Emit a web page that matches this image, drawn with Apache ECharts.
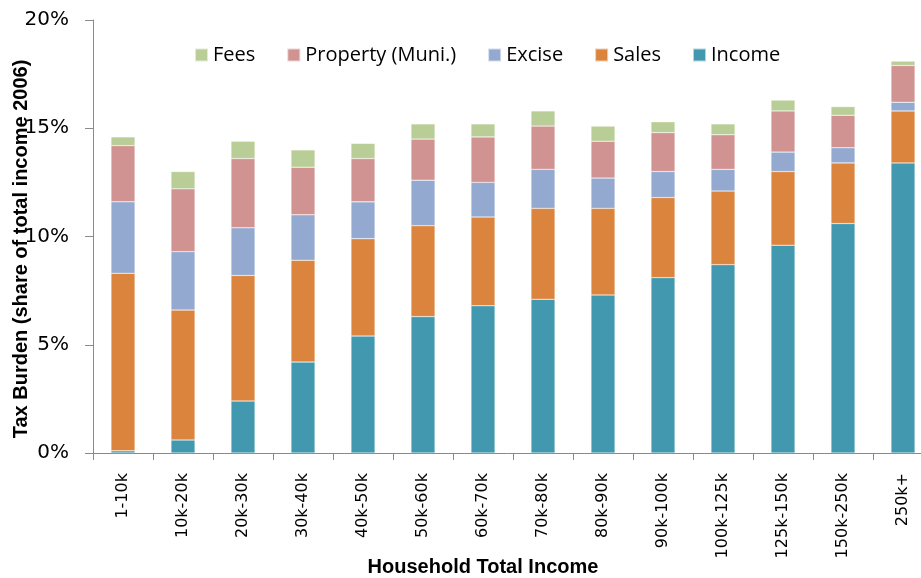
<!DOCTYPE html>
<html lang="en">
<head>
    <meta charset="UTF-8">
    <title>Tax Burden</title>
    <script type="text/javascript" src="https://cdn.jsdelivr.net/npm/echarts@6/dist/echarts.min.js"></script>
    <style>
        html, body { margin: 0; padding: 0; background: #fff; }
    </style>
</head>
<body>
<div id="chartmain" style="width:921px;height:578px"></div>
<script>
    // household income brackets
    var categories = ['1-10k', '10k-20k', '20k-30k', '30k-40k', '40k-50k', '50k-60k', '60k-70k',
        '70k-80k', '80k-90k', '90k-100k', '100k-125k', '125k-150k', '150k-250k', '250k+'];

    // tax burden by type, % of total income
    var income   = [0.1, 0.6, 2.4, 4.2, 5.4, 6.3, 6.8, 7.1, 7.3, 8.1, 8.7, 9.6, 10.6, 13.4];
    var sales    = [8.2, 6.0, 5.8, 4.7, 4.5, 4.2, 4.1, 4.2, 4.0, 3.7, 3.4, 3.4, 2.8, 2.4];
    var excise   = [3.3, 2.7, 2.2, 2.1, 1.7, 2.1, 1.6, 1.8, 1.4, 1.2, 1.0, 0.9, 0.7, 0.4];
    var property = [2.6, 2.9, 3.2, 2.2, 2.0, 1.9, 2.1, 2.0, 1.7, 1.8, 1.6, 1.9, 1.5, 1.7];
    var fees     = [0.4, 0.8, 0.8, 0.8, 0.7, 0.7, 0.6, 0.7, 0.7, 0.5, 0.5, 0.5, 0.4, 0.2];

    var legendOrder = ['Fees', 'Property (Muni.)', 'Excise', 'Sales', 'Income'];

    function barSeries(name, data, color) {
        return {
            name: name,
            type: 'bar',
            stack: 'tax',
            barWidth: '40%',
            data: data,
            itemStyle: {color: color, borderColor: 'rgba(255,255,255,0.6)', borderWidth: 0.5}
        };
    }

    var option = {
        animation: false,
        legend: {
            data: legendOrder,
            left: 194,
            top: 45,
            padding: 0,
            icon: 'rect',
            itemWidth: 13,
            itemHeight: 13,
            itemGap: 31,
            textStyle: {fontFamily: 'Open Sans', fontSize: 20, color: '#000'}
        },
        grid: {
            left: 93,
            right: -12,
            top: 20,
            bottom: 125,
            outerBoundsMode: 'none'
        },
        xAxis: {
            type: 'category',
            data: categories,
            name: 'Household Total Income',
            nameLocation: 'middle',
            nameGap: 104,
            nameMoveOverlap: false,
            nameTextStyle: {fontFamily: 'Liberation Sans', fontWeight: 'bold', fontSize: 20, color: '#000', padding: [0, 60, 0, 0]},
            axisLine: {lineStyle: {color: '#8a8a8a', width: 1}},
            axisTick: {show: true, length: 7, lineStyle: {color: '#8a8a8a'}},
            axisLabel: {rotate: 90, margin: 20, fontFamily: 'DejaVu Sans', fontSize: 16, color: '#000', interval: 0}
        },
        yAxis: {
            type: 'value',
            min: 0,
            max: 20,
            interval: 5,
            name: 'Tax Burden (share of total income 2006)',
            nameLocation: 'middle',
            nameGap: 62,
            nameMoveOverlap: false,
            nameTextStyle: {fontFamily: 'Liberation Sans', fontWeight: 'bold', fontSize: 20, color: '#000', padding: [0, 25, 0, 0]},
            splitLine: {show: false},
            axisLine: {show: true, lineStyle: {color: '#8a8a8a', width: 1}},
            axisTick: {show: true, length: 8, lineStyle: {color: '#8a8a8a'}},
            axisLabel: {formatter: '{value}%', margin: 24, fontFamily: 'DejaVu Sans', fontSize: 20, color: '#000'}
        },
        series: [
            barSeries('Income', income, '#4198AF'),
            barSeries('Sales', sales, '#DB843D'),
            barSeries('Excise', excise, '#93A9CF'),
            barSeries('Property (Muni.)', property, '#D19392'),
            barSeries('Fees', fees, '#B9CD96')
        ]
    };

    var myChart = echarts.init(document.getElementById('chartmain'));
    myChart.setOption(option);
</script>
</body>
</html>
